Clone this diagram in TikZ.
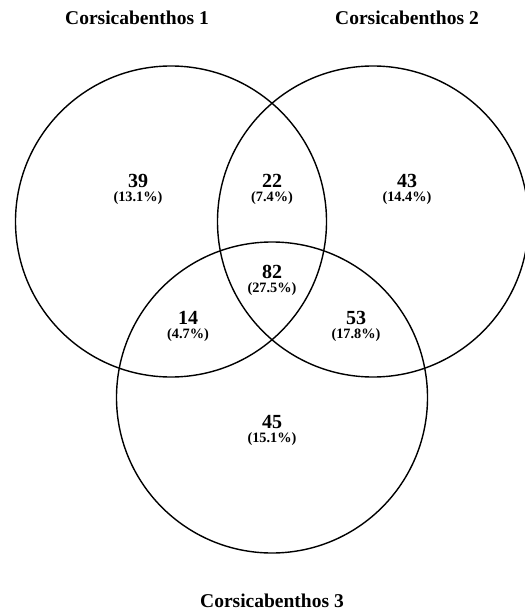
\documentclass[tikz,border=0pt]{standalone}
\usepackage{fontspec}
\setmainfont{Liberation Serif}
\usetikzlibrary{positioning}

\begin{document}
\begin{tikzpicture}[x=1pt, y=-1pt, line width=1.4pt]
      \tikzstyle{setname}=[font=\fontsize{19.5}{20}\selectfont\bfseries]
      \tikzstyle{count}=[font=\fontsize{20}{20}\selectfont\bfseries, inner sep=0pt]
      \tikzstyle{share}=[font=\fontsize{14.3}{15}\selectfont\bfseries, inner sep=0pt]
      \useasboundingbox (0,0) rectangle (524,612);

      % the three sets
      \coordinate (c1) at (171,221.5);
      \coordinate (c2) at (373,221.5);
      \coordinate (c3) at (272,397.5);
      \draw (c1) circle[radius=155.5];
      \draw (c2) circle[radius=155.5];
      \draw (c3) circle[radius=155.5];

      \node[setname] (n1) at (137,18) {Corsicabenthos 1};
      \node[setname] (n2) at (407,18) {Corsicabenthos 2};
      \node[setname] (n3) at (272,601) {Corsicabenthos 3};

      % counts
      \node[count] (a) at (138,181) {39};
      \node[share] (pa) at (138,198) {(13.1\%)};
      \node[count] (ab) at (272,181) {22};
      \node[share] (pab) at (272,198) {(7.4\%)};
      \node[count] (b) at (407,181) {43};
      \node[share] (pb) at (407,198) {(14.4\%)};
      \node[count] (abc) at (272,272) {82};
      \node[share] (pabc) at (272,289) {(27.5\%)};
      \node[count] (ac) at (188,318) {14};
      \node[share] (pac) at (188,335) {(4.7\%)};
      \node[count] (bc) at (356,318) {53};
      \node[share] (pbc) at (356,335) {(17.8\%)};
      \node[count] (c) at (272,422) {45};
      \node[share] (pc) at (272,439) {(15.1\%)};
    \end{tikzpicture}
\end{document}
